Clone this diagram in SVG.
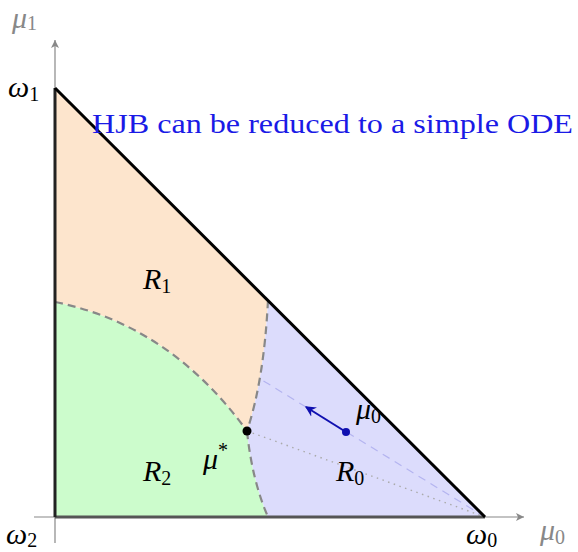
<svg xmlns="http://www.w3.org/2000/svg" width="578" height="552" viewBox="0 0 578 552">
<defs>
<marker id="ga" viewBox="0 0 10 10" refX="9" refY="5" markerWidth="10" markerHeight="10" markerUnits="userSpaceOnUse" orient="auto"><path d="M1,1 L9,5 L1,9 L3,5 Z" fill="#888"/></marker>
<marker id="ba" viewBox="0 0 10 10" refX="8" refY="5" markerWidth="12" markerHeight="12" markerUnits="userSpaceOnUse" orient="auto"><path d="M0,0.5 L9,5 L0,9.5 L3,5 Z" fill="#1010b0"/></marker>
</defs>
<style>
text{font-family:"Liberation Serif","Times New Roman",serif}
.m{font-size:30px;fill:#000;font-style:italic}
.s{font-size:20px;font-style:normal}
.g{fill:#888}
.bd{fill:none;stroke:#888;stroke-width:2.2;stroke-dasharray:8,5}
.ax{stroke:#888;stroke-width:1.2;fill:none}
</style>
<g id="regions">
<path id="R2fill" d="M55,517 L55,302 Q170,325 247,431 Q252,480 268,517 Z" fill="#ccfccc"/>
<path id="R1fill" d="M55,302 L55,88 L268,300 Q264,380 247,431 Q170,325 55,302 Z" fill="#fde5cd"/>
<path id="R0fill" d="M268,300 L485,517 L268,517 Q252,480 247,431 Q264,380 268,300 Z" fill="#dcdcfc"/>
</g>
<g id="axes">
<line class="ax" x1="55" y1="543" x2="55" y2="40" marker-end="url(#ga)"/>
<line class="ax" x1="34" y1="517" x2="524" y2="517" marker-end="url(#ga)"/>
</g>
<g id="connectors">
<line x1="485" y1="517" x2="262" y2="380" stroke="#b4b4f0" stroke-width="1.2" stroke-dasharray="8,6"/>
<line x1="247" y1="431" x2="485" y2="517" stroke="#aaa" stroke-width="1.4" stroke-dasharray="1.5,4.5"/>
<path class="bd" d="M55,302 Q170,325 247,431"/>
<path class="bd" d="M268,300 Q264,380 247,431"/>
<path class="bd" d="M247,431 Q252,480 268,517"/>
<line x1="346" y1="432" x2="306" y2="407" stroke="#1010b0" stroke-width="2" marker-end="url(#ba)"/>
</g>
<g id="simplex">
<line x1="55" y1="517" x2="485" y2="517" stroke="#555" stroke-width="3"/>
<line x1="55" y1="517" x2="55" y2="88" stroke="#222" stroke-width="3"/>
<line x1="55" y1="88" x2="485" y2="517" stroke="#000" stroke-width="3"/>
</g>
<g id="mustar"><circle cx="247" cy="431" r="4.5" fill="#000"/><text class="m" x="203" y="469">μ<tspan class="s" dy="-12">*</tspan></text></g>
<g id="mu0"><circle cx="346" cy="432" r="4" fill="#1010b0"/><text class="m" x="356" y="419">μ<tspan class="s" dy="4">0</tspan></text></g>
<g id="R0"><text class="m" x="336" y="481">R<tspan class="s" dy="4">0</tspan></text></g>
<g id="R1"><text class="m" x="143" y="289">R<tspan class="s" dy="4">1</tspan></text></g>
<g id="R2"><text class="m" x="143" y="481">R<tspan class="s" dy="4">2</tspan></text></g>
<g id="labels">
<text class="m" x="8" y="97">ω<tspan class="s" dy="4">1</tspan></text>
<text class="m" x="6" y="544">ω<tspan class="s" dy="3">2</tspan></text>
<text class="m" x="466" y="544">ω<tspan class="s" dy="3">0</tspan></text>
<text class="m g" x="12" y="28">μ<tspan class="s" dy="2">1</tspan></text>
<text class="m g" x="540" y="540">μ<tspan class="s" dy="4">0</tspan></text>
</g>
<g id="note"><text x="92" y="133" font-size="27" fill="#1a1ae6" textLength="481" lengthAdjust="spacingAndGlyphs">HJB can be reduced to a simple ODE</text></g>
</svg>
